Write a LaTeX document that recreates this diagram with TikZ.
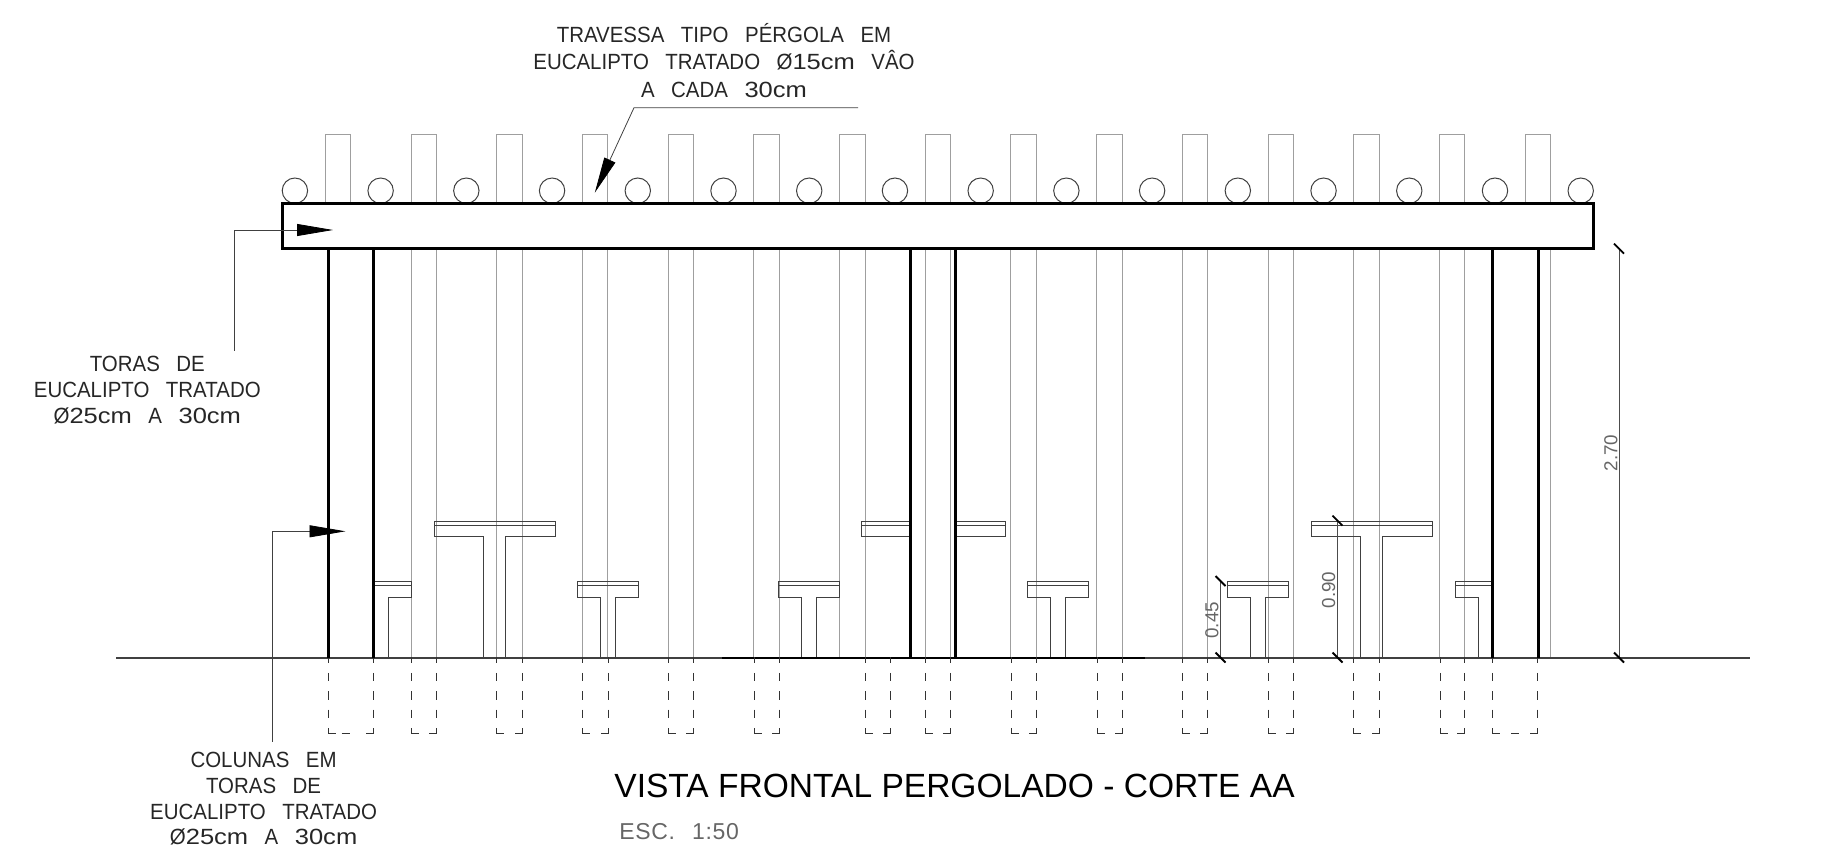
\documentclass[tikz,border=0pt]{standalone}
\usepackage{fontspec}
\setmainfont{Liberation Sans}
\newfontfamily\cadfont[WordSpace=2.9,FakeStretch=0.93]{Liberation Sans}
\newfontfamily\cadwide[FakeStretch=1.16]{Liberation Sans}
\newfontfamily\escfont[LetterSpace=3,WordSpace=2.4]{Liberation Sans}
\newcommand{\cmtext}[1]{{\cadwide #1}}
\usepackage{tikz}
\usetikzlibrary{arrows.meta,positioning,calc}

\tikzset{
    cadtext/.style={align=center, font=\cadfont\fontsize{11}{12.85}\selectfont, text=black!85},
    dimtext/.style={rotate=90, font=\fontsize{9.4}{11}\selectfont, text=black!60},
    pole/.style={gray!75, line width=0.5pt},
    thickline/.style={black, line width=1.5pt},
    furniture/.style={black!75, line width=0.5pt},
    footing/.style={black!80, line width=0.45pt},
    leader/.style={black!75, line width=0.4pt, -{Triangle[length=18pt,width=6pt,black]}},
    dimline/.style={black!70, line width=0.45pt},
    dimtick/.style={black, line width=0.9pt}
}

\begin{document}
\begin{tikzpicture}[x=0.5pt,y=-0.5pt]
    \useasboundingbox (0,0) rectangle (1845,855);

    % Crossbars above the beam
    \foreach \i in {0,...,14} {
        \pgfmathsetmacro{\xa}{325.3+85.7*\i}
        \pgfmathsetmacro{\xb}{350.8+85.7*\i}
        \draw[pole] (\xa,204) -- (\xa,135) -- (\xb,135) -- (\xb,204);
    }
    % Crossbars below the beam
    \foreach \i in {1,...,13} {
        \pgfmathsetmacro{\xa}{325.3+85.7*\i}
        \pgfmathsetmacro{\xb}{350.8+85.7*\i}
        \draw[pole] (\xa,249) -- (\xa,657) (\xb,249) -- (\xb,657);
    }
    \draw[pole] (1550.7,249) -- (1550.7,657);

    % Round purlins
    \foreach \i in {0,...,15} {
        \draw[black!75, line width=0.5pt] ({294.9+85.72*\i},190.7) circle (12.7);
    }

    % Ground
    \draw[black!75, line width=1pt] (116,657.5) -- (1750,657.5);
    \draw[black, line width=1pt] (722,657.5) -- (1145,657.5);

    % Footings (dashed)
    \foreach \xa/\xb in {328.1/373.7,411.2/436.6,496.9/522.3,582.6/608,668.8/693.8,754.5/779.5,865/890.3,925.7/950.7,1011.3/1036.3,1097/1122,1182.3/1207.7,1268.3/1293.7,1353.9/1379.6,1440/1464.7,1492.6/1537.9} {
        \draw[footing, dash pattern=on 4.2pt off 4.95pt, dash phase=1.2pt] (\xa,657) -- (\xa,726);
        \draw[footing, dash pattern=on 4.2pt off 4.95pt, dash phase=1.2pt] (\xb,657) -- (\xb,726);
        \draw[footing] (\xa,728.3) -- (\xa,733) -- ++(7.5,0);
        \draw[footing] (\xb,728.3) -- (\xb,733) -- ++(-7.5,0);
    }
    \draw[footing] (341.5,733) -- ++(8,0) (1511,733) -- ++(8,0);

    % Tables
    \foreach \a/\b/\c/\d in {434/483/505.8/555.4,1311/1360.5/1382.7/1432.4} {
        \draw[furniture] (\c,657) -- (\c,536.3) -- (\d,536.3) -- (\d,521) -- (\a,521) -- (\a,536.3) -- (\b,536.3) -- (\b,657);
        \draw[furniture] (\a,525) -- (\d,525);
    }
    \draw[furniture] (910,521) -- (861.3,521) -- (861.3,536.3) -- (910,536.3) (861.3,525) -- (910,525);
    \draw[furniture] (955.7,521) -- (1005,521) -- (1005,536.3) -- (955.7,536.3) (955.7,525) -- (1005,525);

    % Stools
    \foreach \a/\b/\c/\d in {577.7/600.9/615.6/638.4,778.6/801/816/839.4,1027.7/1050.3/1065.7/1088.3,1227.7/1250.6/1265.7/1288.7} {
        \draw[furniture] (\c,657) -- (\c,597) -- (\d,597) -- (\d,581) -- (\a,581) -- (\a,597) -- (\b,597) -- (\b,657);
        \draw[furniture] (\a,585.7) -- (\d,585.7);
    }
    \draw[furniture] (373.7,581) -- (411,581) -- (411,597) -- (388.4,597) -- (388.4,657) (373.7,585.7) -- (411,585.7);
    \draw[furniture] (1492.3,581) -- (1455,581) -- (1455,597) -- (1478,597) -- (1478,657) (1492.3,585.7) -- (1455,585.7);

    % Columns
    \foreach \x in {328.1,373.7,910.3,955.7,1492.3,1538} {
        \draw[thickline] (\x,249) -- (\x,657.5);
    }

    % Beam
    \draw[thickline, fill=white, miter limit=10] (282.3,203.7) rectangle (1593.3,248.7);

    % Dimensions
    \foreach \x/\y/\lab/\lx/\ly/\nm in {1619/248.7/2.70/1611/453/dimA,1337.5/520.7/0.90/1328.6/590/dimB,1220.5/581/0.45/1212/620.3/dimC} {
        \draw[dimline] (\x,\y) -- (\x,657.5);
        \draw[dimtick] (\x-5,\y-5) -- (\x+5,\y+5);
        \draw[dimtick] (\x-5,652.5) -- (\x+5,662.5);
        \node[dimtext] (\nm) at (\lx,\ly) {\lab};
    }

    % Labels
    \node[cadtext, font=\cadfont\fontsize{11}{13.75}\selectfont] (travessa) at (724,60.5) {TRAVESSA TIPO PÉRGOLA EM\\EUCALIPTO TRATADO Ø\cmtext{15cm} VÂO\\A CADA \cmtext{30cm}};
    \node[cadtext] (toras) at (147.3,390) {TORAS DE\\EUCALIPTO TRATADO\\Ø\cmtext{25cm} A \cmtext{30cm}};
    \node[cadtext] (colunas) at (263.6,799) {COLUNAS EM\\TORAS DE\\EUCALIPTO TRATADO\\Ø\cmtext{25cm} A \cmtext{30cm}};
    \node[anchor=west, inner sep=0pt, font=\fontsize{16.77}{20}\selectfont] (titulo) at (614,786) {VISTA FRONTAL PERGOLADO - CORTE AA};
    \node[anchor=west, inner sep=0pt, font=\escfont\fontsize{11.5}{13}\selectfont, text=black!60] (escala) at (619,831.7) {ESC. 1:50};

    % Leaders
    \coordinate (travA) at (858,107.7);
    \coordinate (travB) at (634,107.7);
    \coordinate (travC) at (594.8,192.7);
    \draw[leader] (travA) -- (travB) -- (travC);
    \coordinate (torasA) at (234,351);
    \coordinate (torasB) at (234,230);
    \coordinate (torasC) at (333,230);
    \draw[leader] (torasA) -- (torasB) -- (torasC);
    \coordinate (colA) at (272.3,741.7);
    \coordinate (colB) at (272.3,531.3);
    \coordinate (colC) at (345.5,531.3);
    \draw[leader] (colA) -- (colB) -- (colC);
\end{tikzpicture}
\end{document}
